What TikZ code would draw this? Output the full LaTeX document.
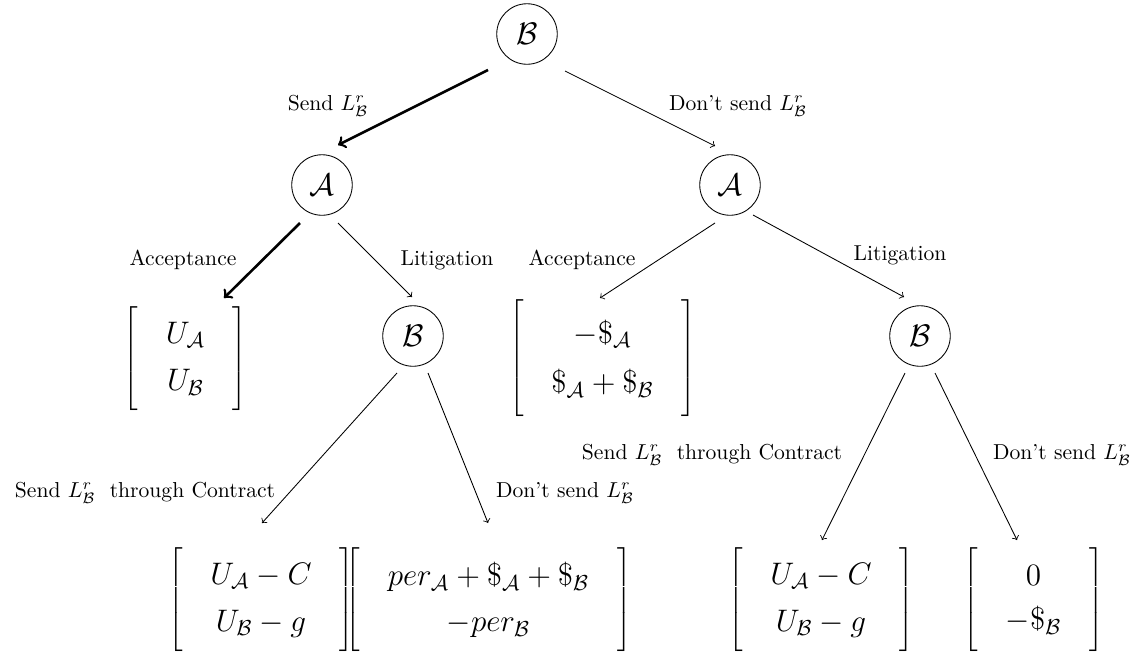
\documentclass[tikz,border=0pt]{standalone}
\usepackage{amsmath}
\usepackage{amssymb}
\usetikzlibrary{matrix,positioning,calc}

\begin{document}
\begin{tikzpicture}[
  x=0.4626pt, y=-0.4626pt,
  >=to,
  player/.style={draw, circle, minimum size=28pt, inner sep=0pt, font=\Large},
  payoff/.style={matrix of math nodes, left delimiter={[}, right delimiter={]},
                 font=\Large, nodes={inner sep=2pt}, row sep=5.8pt,
                 inner xsep=9.5pt, inner ysep=6.8pt},
  choice/.style={font=\normalsize},
  arrow/.style={->},
  bestarrow/.style={->, very thick},
]
\useasboundingbox (0,0) rectangle (1145,661);

% decision nodes
\node[player] (rootB) at (527,34) {$\mathcal{B}$};
\node[player] (sendA) at (322,185) {$\mathcal{A}$};
\node[player] (keepA) at (730,185) {$\mathcal{A}$};
\node[player] (sendB) at (413,336) {$\mathcal{B}$};
\node[player] (keepB) at (920,336) {$\mathcal{B}$};

% payoffs
\matrix (accSend) [payoff] at (185.5,358.5) {U_{\mathcal{A}} \\ U_{\mathcal{B}} \\};
\matrix (accKeep) [payoff] at (602.5,358.5) {-\$_{\mathcal{A}} \\ \$_{\mathcal{A}}+\$_{\mathcal{B}} \\};
\matrix (conSend) [payoff] at (261,600) {U_{\mathcal{A}}-C \\ U_{\mathcal{B}}-g \\};
\matrix (noSend)  [payoff] at (488.5,600) {per_{\mathcal{A}}+\$_{\mathcal{A}}+\$_{\mathcal{B}} \\ -per_{\mathcal{B}} \\};
\matrix (conKeep) [payoff] at (821,600) {U_{\mathcal{A}}-C \\ U_{\mathcal{B}}-g \\};
\matrix (noKeep)  [payoff] at (1033.5,600) {0 \\ -\$_{\mathcal{B}} \\};

% moves
\draw[bestarrow] ([shift={(-39,36)}]rootB.center) -- ([shift={(16,-40)}]sendA.center);
\draw[arrow] ([shift={(38,37)}]rootB.center) -- ([shift={(-15,-39)}]keepA.center);
\draw[bestarrow] ([shift={(-22,38)}]sendA.center) -- ([shift={(38.5,-60.5)}]accSend.center);
\draw[arrow] ([shift={(16,38)}]sendA.center) -- ([shift={(-1,-39)}]sendB.center);
\draw[arrow] ([shift={(-15,38)}]keepA.center) -- ([shift={(-2.5,-60.5)}]accKeep.center);
\draw[arrow] ([shift={(23,30)}]keepA.center) -- ([shift={(-16,-39)}]keepB.center);
\draw[arrow] ([shift={(-16,37)}]sendB.center) -- ([shift={(1,-77)}]conSend.center);
\draw[arrow] ([shift={(15,37)}]sendB.center) -- ([shift={(-0.5,-77)}]noSend.center);
\draw[arrow] ([shift={(-15,37)}]keepB.center) -- ([shift={(1,-60)}]conKeep.center);
\draw[arrow] ([shift={(15,37)}]keepB.center) -- ([shift={(-16.5,-60)}]noKeep.center);

% labels
\node[choice] (lSend)  at (328,106) {Send $L^r_{\mathcal{B}}$};
\node[choice] (lKeep)  at (738,106) {Don't send $L^r_{\mathcal{B}}$};
\node[choice] (lAcc1)  at (183,260) {Acceptance};
\node[choice] (lLit1)  at (447,260) {Litigation};
\node[choice] (lAcc2)  at (582,260) {Acceptance};
\node[choice] (lLit2)  at (900,255) {Litigation};
\node[choice] (lCon1)  at (145,493) {Send $L^r_{\mathcal{B}}$\ \ through Contract};
\node[choice] (lNo1)   at (565,493) {Don't send $L^r_{\mathcal{B}}$};
\node[choice] (lCon2)  at (712,455) {Send $L^r_{\mathcal{B}}$\ \ through Contract};
\node[choice] (lNo2)   at (1062,455) {Don't send $L^r_{\mathcal{B}}$};

\end{tikzpicture}
\end{document}
